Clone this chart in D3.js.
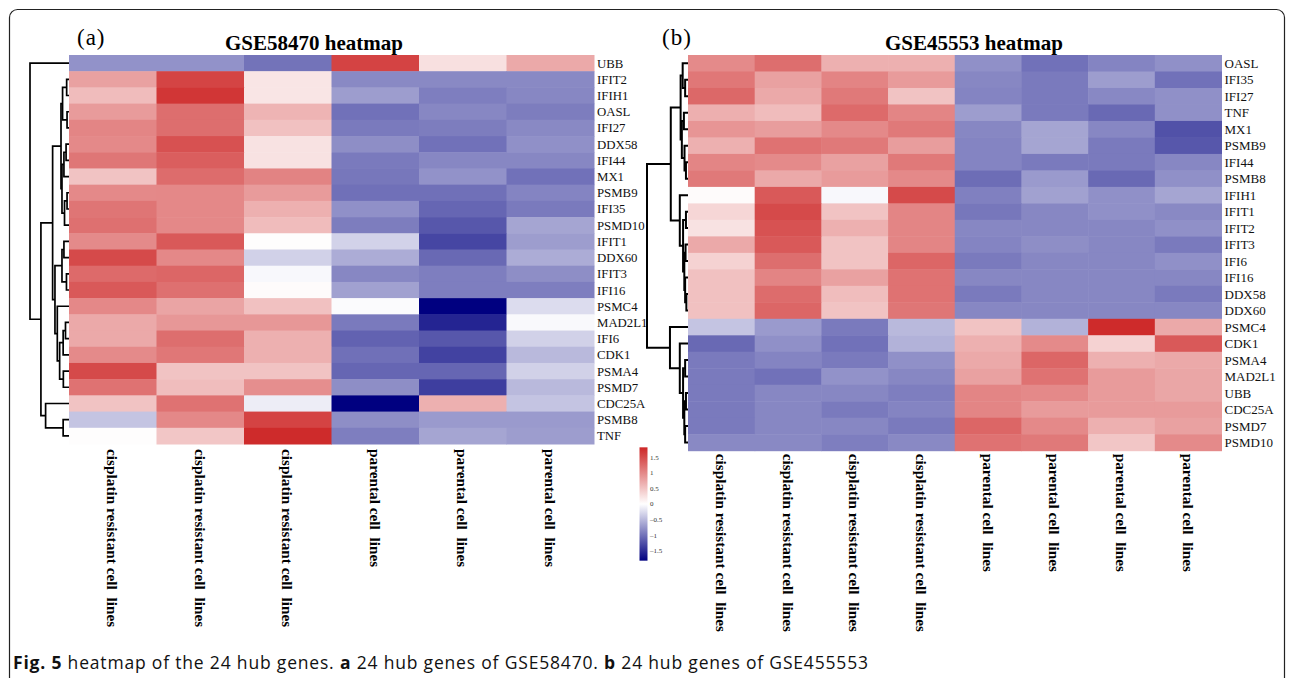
<!DOCTYPE html>
<html>
<head>
<meta charset="utf-8">
<script src="https://cdn.jsdelivr.net/npm/d3@7"></script>
<style>
  body { margin: 0; background: #fff; }
  svg { display: block; }
</style>
</head>
<body>
<div id="fig"></div>
<script>
// ---------- data: panel (a) GSE58470 ----------
const genesA = ["UBB","IFIT2","IFIH1","OASL","IFI27","DDX58","IFI44","MX1","PSMB9","IFI35","PSMD10",
  "IFIT1","DDX60","IFIT3","IFI16","PSMC4","MAD2L1","IFI6","CDK1","PSMA4","PSMD7","CDC25A","PSMB8","TNF"];
const samplesA = ["cisplatin resistant cell  lines","cisplatin resistant cell  lines","cisplatin resistant cell  lines",
  "parental cell  lines","parental cell  lines","parental cell  lines"];
const valuesA = [
  [-0.78,-0.78,-1.00, 1.58, 0.26, 0.72],
  [ 0.79, 1.57, 0.22,-0.84,-0.84,-0.84],
  [ 0.56, 1.69, 0.22,-0.70,-0.92,-0.86],
  [ 0.84, 1.22, 0.63,-1.01,-0.86,-0.93],
  [ 1.02, 1.22, 0.52,-0.95,-0.93,-0.84],
  [ 0.99, 1.46, 0.24,-0.81,-1.01,-0.79],
  [ 1.15, 1.35, 0.24,-0.95,-0.86,-0.86],
  [ 0.50, 1.23, 1.04,-0.97,-0.78,-1.01],
  [ 0.99, 1.00, 0.84,-1.02,-1.02,-0.88],
  [ 1.16, 1.00, 0.66,-0.79,-1.09,-0.95],
  [ 1.20, 1.00, 0.56,-0.93,-1.20,-0.64],
  [ 0.98, 1.39, 0.02,-0.32,-1.32,-0.70],
  [ 1.52, 1.00,-0.33,-0.59,-1.07,-0.59],
  [ 1.25, 1.28,-0.05,-0.86,-0.92,-0.81],
  [ 1.39, 1.20, 0.03,-0.67,-0.92,-0.92],
  [ 1.00, 0.76, 0.52,-0.03,-1.82,-0.25],
  [ 0.72, 0.87, 0.87,-0.95,-1.56,-0.04],
  [ 0.72, 1.22, 0.66,-1.12,-1.20,-0.33],
  [ 0.98, 1.14, 0.66,-1.02,-1.35,-0.50],
  [ 1.52, 0.50, 0.50,-1.09,-1.09,-0.33],
  [ 1.18, 0.55, 0.95,-0.81,-1.38,-0.50],
  [ 0.50, 1.18,-0.13,-1.82, 0.66,-0.42],
  [-0.42, 1.00, 1.58,-0.81,-0.72,-0.72],
  [ 0.02, 0.48, 1.78,-0.92,-0.64,-0.70]
];
// row dendrograms: [left, right, height]
const clusterA_B1 = [
  [["IFIT2","IFIH1",0.6],["OASL","IFI27",0.5],1.65],
  [[["DDX58","IFI44",0.75],"MX1",1.3],[["PSMB9","IFI35",0.5],"PSMD10",1.15],1.8],
  2.05];
const clusterA_B2 = [
  [["IFIT1","DDX60",1.3],["IFIT3","IFI16",0.65],1.8],
  ["PSMC4",[[["MAD2L1","IFI6",0.9],"CDK1",1.5],["PSMA4","PSMD7",1.45],2.4],3.0],
  3.6];
const clusterA_C = ["CDC25A",["PSMB8","TNF",1.5],6.0];
const treeA = ["UBB", [[clusterA_B1, clusterA_B2, 4.2], clusterA_C, 7.2], 10];

// ---------- data: panel (b) GSE45553 ----------
const genesB = ["OASL","IFI35","IFI27","TNF","MX1","PSMB9","IFI44","PSMB8","IFIH1","IFIT1","IFIT2","IFIT3",
  "IFI6","IFI16","DDX58","DDX60","PSMC4","CDK1","PSMA4","MAD2L1","UBB","CDC25A","PSMD7","PSMD10"];
const samplesB = ["cisplatin resistant cell  lines","cisplatin resistant cell  lines","cisplatin resistant cell  lines",
  "cisplatin resistant cell  lines","parental cell  lines","parental cell  lines","parental cell  lines","parental cell  lines"];
const valuesB = [
  [ 0.98, 1.22, 0.66, 0.66,-0.79,-1.01,-0.88,-0.79],
  [ 1.14, 0.79, 1.03, 0.84,-0.86,-0.95,-0.70,-1.01],
  [ 1.27, 0.72, 1.12, 0.50,-0.88,-0.95,-0.85,-0.79],
  [ 0.67, 0.56, 1.25, 1.02,-0.70,-0.95,-1.07,-0.79],
  [ 0.89, 0.82, 0.99, 1.12,-0.86,-0.64,-0.86,-1.24],
  [ 0.66, 1.18, 1.12, 0.82,-0.88,-0.64,-0.95,-1.20],
  [ 1.02, 0.98, 0.79, 1.12,-0.88,-0.95,-0.95,-0.86],
  [ 1.12, 0.72, 0.84, 0.99,-1.04,-0.72,-1.07,-0.79],
  [ 0.03, 1.39,-0.05, 1.52,-0.91,-0.67,-0.79,-0.64],
  [ 0.34, 1.52, 0.50, 1.02,-0.97,-0.86,-0.79,-0.84],
  [ 0.24, 1.45, 0.66, 1.02,-0.86,-0.86,-0.86,-0.79],
  [ 0.72, 1.39, 0.50, 1.02,-0.88,-0.81,-0.86,-0.95],
  [ 0.38, 1.22, 0.50, 1.28,-0.95,-0.86,-0.86,-0.79],
  [ 0.52, 1.03, 0.79, 1.18,-0.86,-0.86,-0.86,-0.86],
  [ 0.52, 1.23, 0.55, 1.18,-0.95,-0.86,-0.86,-0.95],
  [ 0.52, 1.28, 0.50, 1.15,-0.86,-0.86,-0.86,-0.86],
  [-0.42,-0.72,-0.95,-0.50, 0.50,-0.55, 1.78, 0.72],
  [-1.07,-0.79,-1.01,-0.55, 0.66, 0.98, 0.38, 1.39],
  [-0.95,-0.88,-0.95,-0.79, 0.72, 1.28, 0.66, 0.72],
  [-0.95,-1.01,-0.78,-0.86, 0.79, 1.18, 0.84, 0.75],
  [-0.95,-0.86,-0.86,-0.92, 1.02, 0.99, 0.84, 0.75],
  [-0.95,-0.86,-0.95,-0.88, 1.02, 0.84, 0.84, 0.84],
  [-0.95,-0.86,-0.86,-0.95, 1.28, 0.99, 0.66, 0.79],
  [-0.84,-0.84,-0.92,-0.84, 1.18, 1.12, 0.48, 0.98]
];
const clusterB_R1a = [["OASL",["IFI35","IFI27",0.7],1.3],
  [["TNF","MX1",1.0],["PSMB9",["IFI44","PSMB8",0.5],0.85],1.5], 1.8];
const clusterB_R1b = ["IFIH1",[["IFIT1","IFIT2",0.5],[["IFIT3","IFI6",0.6],["IFI16",["DDX58","DDX60",0.4],0.7],0.9],1.2],2.0];
const clusterB_R2 = ["PSMC4",["CDK1",[["PSMA4","MAD2L1",0.7],[["UBB","CDC25A",0.5],["PSMD7","PSMD10",0.7],0.9],1.2],2.0],4.4];
const treeB = [[clusterB_R1a, clusterB_R1b, 4.2], clusterB_R2, 10];

const legendTicks = [1.5, 1, 0.5, 0, -0.5, -1, -1.5];
const colorMax = 1.82;

// ---------- drawing ----------
const width = 1292, height = 678;
const svg = d3.select("#fig").append("svg")
  .attr("width", width).attr("height", height)
  .attr("viewBox", [0, 0, width, height]);

const serif = "'Liberation Serif', 'Times New Roman', serif";

// figure frame
svg.append("rect")
  .attr("x", 9.5).attr("y", 9.5)
  .attr("width", 1275).attr("height", 720)
  .attr("rx", 8)
  .attr("fill", "none").attr("stroke", "#222").attr("stroke-width", 1.2);

const colorScale = d3.scaleLinear()
  .domain([-colorMax, 0, colorMax])
  .range(["#000080", "#ffffff", "#cd2626"])
  .clamp(true);

function drawTree(g, node, yOf, xOf) {
  if (typeof node === "string") return { y: yOf(node), h: 0 };
  const [l, r, h] = node;
  const a = drawTree(g, l, yOf, xOf);
  const b = drawTree(g, r, yOf, xOf);
  const x = xOf(h);
  g.append("path")
    .attr("d", `M${xOf(a.h)},${a.y}H${x}V${b.y}H${xOf(b.h)}`);
  return { y: (a.y + b.y) / 2, h };
}

function drawPanel(p) {
  const g = svg.append("g");

  const xScale = d3.scaleBand()
    .domain(d3.range(p.samples.length))
    .range([p.x0, p.x1]);
  const yScale = d3.scaleBand()
    .domain(p.genes)
    .range([p.y0, p.y1]);

  // cells
  p.values.forEach((row, i) => {
    g.selectAll(null)
      .data(row)
      .join("rect")
        .attr("x", (d, j) => xScale(j))
        .attr("y", yScale(p.genes[i]))
        .attr("width", xScale.bandwidth() + 0.5)
        .attr("height", yScale.bandwidth() + 0.5)
        .attr("fill", d => colorScale(d));
  });

  // row labels
  g.selectAll(".rowlab")
    .data(p.genes)
    .join("text")
      .attr("x", p.x1 + 3)
      .attr("y", d => yScale(d) + yScale.bandwidth() / 2)
      .attr("dy", "0.35em")
      .attr("font-family", serif)
      .attr("font-size", p.rowFont)
      .attr("fill", "#111")
      .text(d => d);

  // column labels, rotated
  g.selectAll(".collab")
    .data(p.samples)
    .join("text")
      .attr("transform", (d, j) => `translate(${xScale(j) + xScale.bandwidth() / 2}, ${p.y1 + p.labGap}) rotate(90)`)
      .attr("dy", "0.35em")
      .attr("font-family", serif)
      .attr("font-weight", "bold")
      .attr("font-size", 15.3)
      .style("white-space", "pre")
      .attr("fill", "#000")
      .text(d => d);

  // dendrogram
  const hScale = d3.scaleLinear().domain([0, 10]).range([p.x0, p.rootX]);
  const tg = g.append("g")
    .attr("fill", "none")
    .attr("stroke", "#000")
    .attr("stroke-width", p.treeWidth);
  drawTree(tg, p.tree, d => yScale(d) + yScale.bandwidth() / 2, hScale);

  // title + panel letter
  g.append("text")
    .attr("x", p.titleX).attr("y", 50)
    .attr("text-anchor", "middle")
    .attr("font-family", serif)
    .attr("font-weight", "bold")
    .attr("font-size", 21)
    .text(p.title);
  g.append("text")
    .attr("x", p.letterX).attr("y", 45)
    .attr("font-family", serif)
    .attr("font-size", 23)
    .attr("letter-spacing", 1)
    .text(p.letter);
}

drawPanel({
  genes: genesA, samples: samplesA, values: valuesA, tree: treeA,
  x0: 69, x1: 594, y0: 55, y1: 444, rootX: 30, treeWidth: 1.7,
  rowFont: 12.8, labGap: 5, title: "GSE58470 heatmap", titleX: 314,
  letter: "(a)", letterX: 77
});
drawPanel({
  genes: genesB, samples: samplesB, values: valuesB, tree: treeB,
  x0: 688, x1: 1221.5, y0: 55, y1: 450.7, rootX: 647, treeWidth: 2,
  rowFont: 13, labGap: 3, title: "GSE45553 heatmap", titleX: 974,
  letter: "(b)", letterX: 662
});

// colour legend
const legendScale = d3.scaleLinear().domain([-1.5, 1.5]).range([550.7, 457.3]);
const defs = svg.append("defs");
const grad = defs.append("linearGradient")
  .attr("id", "legendGrad")
  .attr("x1", 0).attr("x2", 0).attr("y1", 1).attr("y2", 0);
d3.range(0, 1.0001, 0.1).forEach(t => {
  grad.append("stop")
    .attr("offset", t)
    .attr("stop-color", colorScale(-colorMax + 2 * colorMax * t));
});
svg.append("rect")
  .attr("x", 639.5)
  .attr("y", legendScale(colorMax))
  .attr("width", 8)
  .attr("height", legendScale(-colorMax) - legendScale(colorMax))
  .attr("fill", "url(#legendGrad)");
svg.selectAll(".legtick")
  .data(legendTicks)
  .join("text")
    .attr("x", 650)
    .attr("y", d => legendScale(d))
    .attr("dy", "0.35em")
    .attr("font-family", serif)
    .attr("font-size", 7)
    .attr("fill", "#333")
    .text(d => d < 0 ? "\u2013" + Math.abs(d) : d);

// caption
const cap = svg.append("text")
  .attr("x", 13).attr("y", 669)
  .attr("font-family", "'Open Sans', 'Noto Sans', sans-serif")
  .attr("font-size", 17.5)
  .attr("fill", "#111")
  .attr("textLength", 855)
  .attr("lengthAdjust", "spacing");
[["Fig. 5", true], [" heatmap of the 24 hub genes. ", false], ["a", true],
 [" 24 hub genes of GSE58470. ", false], ["b", true], [" 24 hub genes of GSE455553", false]]
  .forEach(([t, b]) => cap.append("tspan").attr("font-weight", b ? "bold" : "normal")
    .style("white-space", "pre").text(t));
</script>
</body>
</html>
